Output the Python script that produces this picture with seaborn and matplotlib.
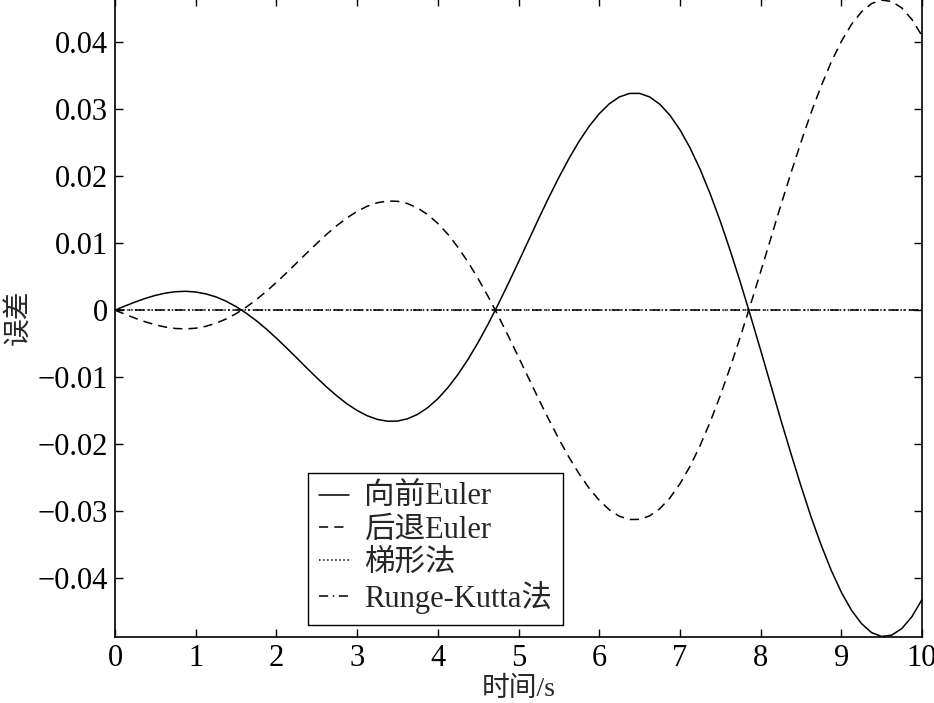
import matplotlib
matplotlib.use("Agg")
import matplotlib.pyplot as plt
from matplotlib.ticker import FuncFormatter, MultipleLocator
import pandas as pd
import seaborn as sns

# time grid (s) and errors
t = [0.0, 0.125, 0.25, 0.375, 0.5, 0.625, 0.75, 0.875, 1.0, 1.125, 1.25,
     1.375, 1.5, 1.625, 1.75, 1.875, 2.0, 2.125, 2.25, 2.375, 2.5, 2.625,
     2.75, 2.875, 3.0, 3.125, 3.25, 3.375, 3.5, 3.625, 3.75, 3.875, 4.0,
     4.125, 4.25, 4.375, 4.5, 4.625, 4.75, 4.875, 5.0, 5.125, 5.25, 5.375,
     5.5, 5.625, 5.75, 5.875, 6.0, 6.125, 6.25, 6.375, 6.5, 6.625, 6.75,
     6.875, 7.0, 7.125, 7.25, 7.375, 7.5, 7.625, 7.75, 7.875, 8.0, 8.125,
     8.25, 8.375, 8.5, 8.625, 8.75, 8.875, 9.0, 9.125, 9.25, 9.375, 9.5,
     9.625, 9.75, 9.875, 10.0]

forward_euler = [0.0, 0.00062, 0.00121, 0.00175, 0.00220, 0.00254, 0.00275,
                 0.00281, 0.00271, 0.00243, 0.00198, 0.00134, 0.00053,
                 -0.00045, -0.00157, -0.00282, -0.00419, -0.00563, -0.00711,
                 -0.00862, -0.01009, -0.01151, -0.01281, -0.01399, -0.01498,
                 -0.01577, -0.01631, -0.01659, -0.01656, -0.01622, -0.01556,
                 -0.01456, -0.01323, -0.01157, -0.00960, -0.00734, -0.00481,
                 -0.00205, 0.00091, 0.00400, 0.00720, 0.01043, 0.01366,
                 0.01680, 0.01981, 0.02262, 0.02519, 0.02744, 0.02932,
                 0.03080, 0.03183, 0.03235, 0.03236, 0.03183, 0.03075,
                 0.02912, 0.02694, 0.02424, 0.02104, 0.01737, 0.01329,
                 0.00884, 0.00412, -0.00085, -0.00596, -0.01114, -0.01636,
                 -0.02137, -0.02624, -0.03086, -0.03506, -0.03884, -0.04211,
                 -0.04478, -0.04680, -0.04814, -0.04872, -0.04852, -0.04754,
                 -0.04577, -0.04321]

backward_euler = [0.0, -0.00062, -0.00121, -0.00174, -0.00219, -0.00253,
                  -0.00274, -0.00280, -0.00270, -0.00242, -0.00196, -0.00133,
                  -0.00053, 0.00044, 0.00155, 0.00280, 0.00414, 0.00556,
                  0.00703, 0.00851, 0.00995, 0.01135, 0.01263, 0.01377,
                  0.01474, 0.01551, 0.01603, 0.01629, 0.01625, 0.01591,
                  0.01525, 0.01426, 0.01295, 0.01132, 0.00938, 0.00717,
                  0.00469, 0.00200, -0.00088, -0.00390, -0.00701, -0.01015,
                  -0.01328, -0.01632, -0.01923, -0.02195, -0.02442, -0.02659,
                  -0.02839, -0.02980, -0.03077, -0.03126, -0.03124, -0.03072,
                  -0.02965, -0.02806, -0.02594, -0.02333, -0.02023, -0.01670,
                  -0.01276, -0.00849, -0.00393, 0.00081, 0.00571, 0.01066,
                  0.01564, 0.02043, 0.02506, 0.02946, 0.03344, 0.03704,
                  0.04011, 0.04264, 0.04453, 0.04577, 0.04629, 0.04608,
                  0.04511, 0.04340, 0.04095]

trapezoid = [0.0] * len(t)
runge_kutta = [0.0] * len(t)

labels = ["向前Euler", "后退Euler", "梯形法", "Runge-Kutta法"]

sns.set_style("ticks")
plt.rcParams["font.family"] = ["Liberation Serif", "Noto Sans CJK SC"]
plt.rcParams["axes.unicode_minus"] = True

df = pd.DataFrame({"t": t, "fwd": forward_euler, "bwd": backward_euler,
                   "trap": trapezoid, "rk": runge_kutta})

fig = plt.figure(figsize=(9.34, 7.03), dpi=100)
ax = fig.add_axes([115 / 934, 66 / 703, 807 / 934, 639 / 703])

lw = 1.1
sns.lineplot(data=df, x="t", y="fwd", ax=ax, color="black", lw=lw,
             label=labels[0])
sns.lineplot(data=df, x="t", y="bwd", ax=ax, color="black", lw=lw,
             label=labels[1]).lines[-1].set_dashes((6, 4))
sns.lineplot(data=df, x="t", y="trap", ax=ax, color="black", lw=lw,
             label=labels[2]).lines[-1].set_linestyle(":")
sns.lineplot(data=df, x="t", y="rk", ax=ax, color="black", lw=lw,
             label=labels[3]).lines[-1].set_dashes((6, 3, 1, 3))

ax.set_xlim(0, 10)
ax.set_ylim(-0.0488, 0.0466)
ax.xaxis.set_major_locator(MultipleLocator(1))
ax.yaxis.set_major_locator(MultipleLocator(0.01))
ax.yaxis.set_major_formatter(
    FuncFormatter(lambda v, p: ("%g" % round(v, 3)).replace("-", "\u2212")))

for s in ax.spines.values():
    s.set_color("black")
    s.set_linewidth(1.2)
ax.tick_params(direction="in", length=6, width=1, top=True, right=True,
               labelsize=22, colors="black", pad=5)

ax.set_xlabel("时间/s", fontsize=20, labelpad=3)
ax.set_ylabel("误差", fontsize=20, labelpad=4)

leg = ax.legend(loc="lower left", bbox_to_anchor=(0.239, 0.019),
                borderaxespad=0, fontsize=22, handlelength=1.0,
                handletextpad=0.5, borderpad=0.35, labelspacing=0.12,
                frameon=True, fancybox=False, framealpha=1)
leg.get_frame().set_edgecolor("black")
leg.get_frame().set_linewidth(1.0)

fig.savefig("out.png", dpi=100)
